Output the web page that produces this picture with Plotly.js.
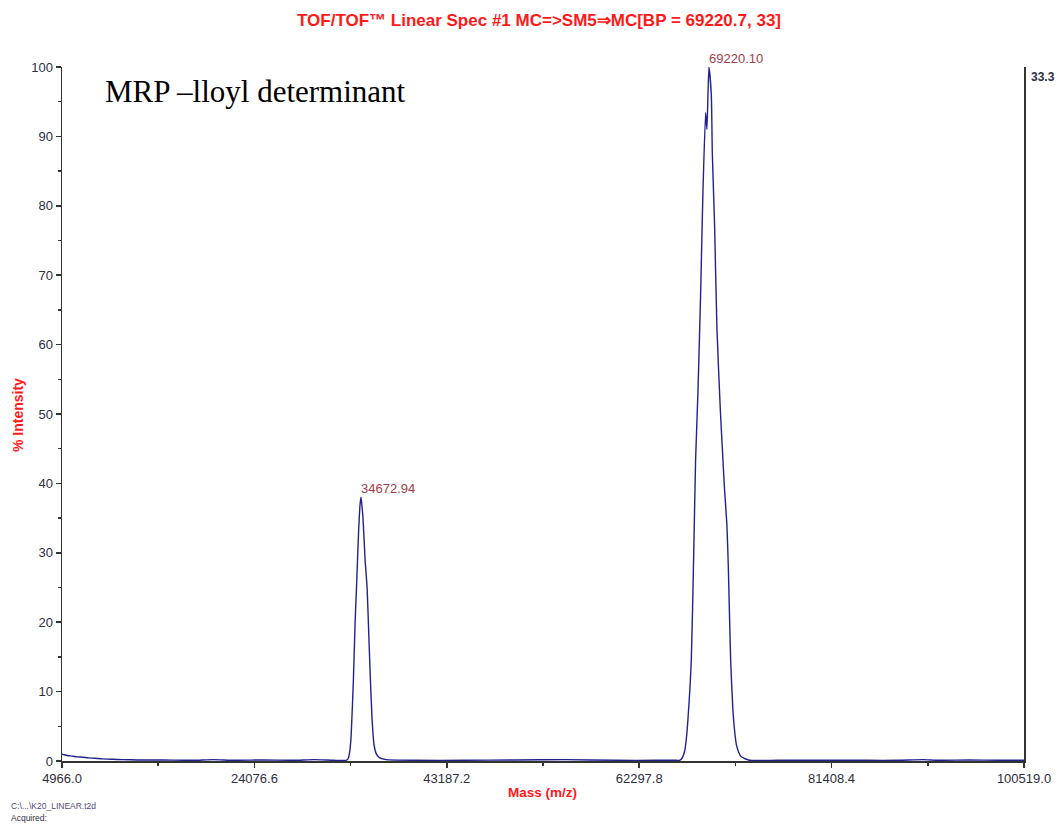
<!DOCTYPE html>
<html>
<head>
<meta charset="utf-8">
<script src="https://cdn.plot.ly/plotly-3.0.1.min.js"></script>
<style>html,body{margin:0;padding:0;background:#fff;}#chart{width:1062px;height:825px;}</style>
</head>
<body>
<div id="chart"></div>
<script>
// ---- data ----
const mass = [
  4966, 5200, 5500, 6000, 6500, 7000, 7600, 8200, 9000, 10000, 11000, 12500, 15000, 18000, 20000, 22000, 25000, 28000, 30000, 32000,
  33185, 33380, 33530, 33680, 33910, 34080, 34245, 34425, 34575, 34673, 34875, 35070, 35270, 35420, 35600, 35765, 35965, 36165, 36460, 37160,
  40000, 45000, 50000, 55000, 60000, 64000, 66000,
  66300, 66550, 66810, 66980, 67135, 67475, 67700, 67900, 68130, 68400, 68625, 68895, 69025, 69220, 69460, 69560, 69790, 70015, 70355, 70615, 70780, 71010, 71150, 71380, 71605, 71800, 71945, 72200, 72440, 73265,
  76000, 80000, 85000, 88000, 90500, 92000, 95000, 98000, 100519
];
const intensity = [
  1.0, 0.9, 0.8, 0.7, 0.6, 0.55, 0.45, 0.4, 0.3, 0.25, 0.2, 0.15, 0.15, 0.1, 0.2, 0.1, 0.15, 0.1, 0.2, 0.1,
  0.1, 0.3, 1.2, 3.5, 11.7, 20, 26, 33, 37, 38, 34.7, 29, 25, 19, 11.7, 6, 2.3, 1.1, 0.5, 0.2,
  0.1, 0.1, 0.15, 0.2, 0.1, 0.1, 0.1,
  0.1, 0.4, 1.4, 3.2, 5.9, 14.6, 29, 43.4, 53, 67.4, 81.8, 93.4, 91, 100, 96, 87.6, 77, 62.5, 50.6, 43.4, 39, 34, 28, 14.6, 7.3, 4, 2.4, 1.2, 0.6, 0.1,
  0.1, 0.1, 0.1, 0.1, 0.2, 0.1, 0.15, 0.1, 0.1
];
const xTickVals = [4966.0, 24076.6, 43187.2, 62297.8, 81408.4, 100519.0];
const xTickText = ["4966.0", "24076.6", "43187.2", "62297.8", "81408.4", "100519.0"];
const xMinorVals = [14521.3, 33631.9, 52742.5, 71853.1, 90963.7];
const peakMasses = [34672.94, 69220.10];
const peakHeights = [38, 100];
const peakLabels = ["34672.94", "69220.10"];
const chartTitle = "TOF/TOF\u2122 Linear Spec #1 MC=>SM5\u21d2MC[BP = 69220.7, 33]";
const insetText = "MRP \u2013lloyl determinant";
const maxCountLabel = "33.3";
const fileLabel = "C:\\...\\K20_LINEAR.t2d";
const acquiredLabel = "Acquired:";

const red = "#ff1a1a";
const sans = "Liberation Sans, Arial, sans-serif";
const tickFont = {family: sans, size: 13, color: "#2e2e3e"};

const trace = {
  x: mass, y: intensity, type: "scatter", mode: "lines", line: {color: "#22228e", width: 1.4, shape: "spline", smoothing: 0.5}, hoverinfo: "skip"
};

const annotations = [];
for (let i = 0; i < peakMasses.length; i++) {
  annotations.push({
    x: peakMasses[i], y: peakHeights[i], xref: "x", yref: "y",
    text: peakLabels[i], showarrow: false, xanchor: "left", yanchor: "bottom", xshift: -2, yshift: -1,
    font: {family: sans, size: 13, color: "#a0404a"}
  });
}
annotations.push(
  {x: 0.045, y: 0.965, xref: "paper", yref: "paper", text: insetText, showarrow: false, xanchor: "left", yanchor: "middle", xshift: -2,
   font: {family: "Liberation Serif, Times New Roman, serif", size: 31, color: "#000"}},
  {x: 1, y: 0.985, xref: "paper", yref: "paper", text: "<b>" + maxCountLabel + "</b>", showarrow: false, xanchor: "left", yanchor: "middle", xshift: 5,
   font: {family: sans, size: 12, color: "#2e2e3e"}},
  {x: (18 - 62) / 962, y: (761 - 415) / 694, xref: "paper", yref: "paper", text: "<b>% Intensity</b>", showarrow: false, textangle: -90,
   xanchor: "center", yanchor: "middle",
   font: {family: sans, size: 14, color: red}},
  {x: (542 - 62) / 962, y: (761 - 792) / 694, xref: "paper", yref: "paper", text: "<b>Mass (m/z)</b>", showarrow: false, xanchor: "center", yanchor: "middle",
   font: {family: sans, size: 13.5, color: red}},
  {x: (10 - 62) / 962, y: (761 - 806) / 694, xref: "paper", yref: "paper", text: fileLabel, showarrow: false, xanchor: "left", yanchor: "middle", xshift: -1,
   font: {family: sans, size: 8.5, color: "#554a77"}},
  {x: (10 - 62) / 962, y: (761 - 818) / 694, xref: "paper", yref: "paper", text: acquiredLabel, showarrow: false, xanchor: "left", yanchor: "middle", xshift: -1,
   font: {family: sans, size: 8.5, color: "#333344"}}
);

const layout = {
  width: 1062, height: 825,
  margin: {l: 62, r: 38, t: 67, b: 64},
  paper_bgcolor: "#fff", plot_bgcolor: "#fff",
  showlegend: false,
  title: {text: "<b>" + chartTitle + "</b>", x: 539 / 1062, xref: "container", xanchor: "center", y: 1 - 20 / 825, yref: "container", yanchor: "middle",
          font: {family: sans, size: 17, color: red}},
  xaxis: {
    range: [4966, 100519], tickmode: "array", tickvals: xTickVals, ticktext: xTickText,
    showgrid: false, zeroline: false, showline: true, linecolor: "#333", linewidth: 1.5,
    ticks: "outside", ticklen: 5, tickwidth: 1.5, tickcolor: "#333", tickfont: tickFont,
    minor: {tickmode: "array", tickvals: xMinorVals, ticks: "outside", ticklen: 3, tickwidth: 1.5, tickcolor: "#333", showgrid: false},
    fixedrange: true
  },
  yaxis: {
    range: [0, 100], tickmode: "linear", tick0: 0, dtick: 10,
    showgrid: false, zeroline: false, showline: true, mirror: true, linecolor: "#333", linewidth: 1.5,
    ticks: "outside", ticklen: 5, tickwidth: 1.5, tickcolor: "#333", tickfont: tickFont,
    minor: {dtick: 5, ticks: "outside", ticklen: 3, tickwidth: 1.5, tickcolor: "#333", showgrid: false},
    fixedrange: true
  },
  annotations: annotations
};

Plotly.newPlot("chart", [trace], layout, {displayModeBar: false, staticPlot: true});
</script>
</body>
</html>
